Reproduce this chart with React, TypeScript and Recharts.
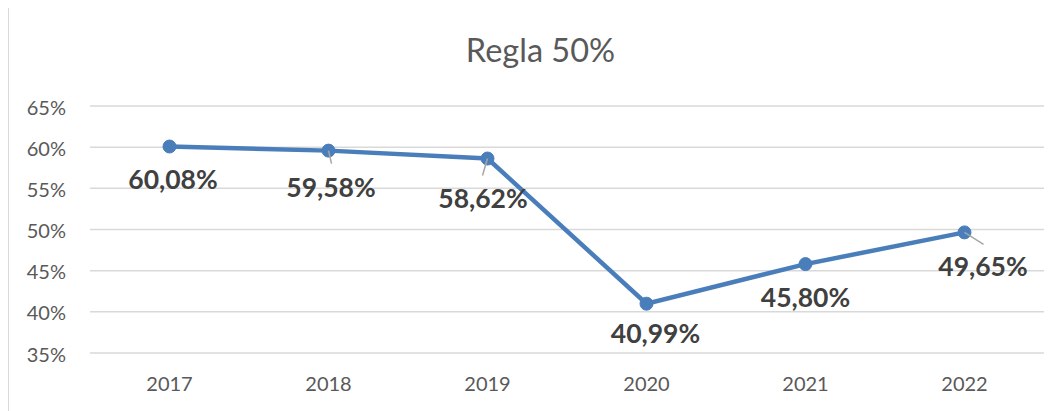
import React from "react";
import { LineChart, Line, XAxis, YAxis, CartesianGrid, LabelList } from "recharts";

const years = ["2017", "2018", "2019", "2020", "2021", "2022"];
const regla50 = [60.08, 59.58, 58.62, 40.99, 45.8, 49.65];
const yTicks = [35, 40, 45, 50, 55, 60, 65];
const chartTitle = "Regla 50%";

const data = years.map((year, i) => ({ year, value: regla50[i] }));

const FONT = "Lato, 'Open Sans', sans-serif";

// label placement (dx, dy from the point) and leader line ends
const labelOffsets: [number, number][] = [
  [3.5, 42],
  [2.5, 46],
  [-4.5, 49.4],
  [9, 39.7],
  [0, 43],
  [18.5, 43.7],
];
const leaders: ([number, number] | null)[] = [null, [3, 13], [-5, 17], null, null, [19, 12]];

const fmt = (v: number) => v.toFixed(2).replace(".", ",") + "%";

const DataLabel = (props: any) => {
  const { x, y, value, index } = props;
  const [dx, dy] = labelOffsets[index] || [0, 40];
  const leader = leaders[index];
  return (
    <g>
      {leader && (
        <line
          x1={x}
          y1={y}
          x2={x + leader[0]}
          y2={y + leader[1]}
          stroke="#a6a6a6"
          strokeWidth={1.5}
        />
      )}
      <text
        x={x + dx}
        y={y + dy}
        textAnchor="middle"
        fontFamily={FONT}
        fontWeight="bold"
        fontSize={26.5}
        fill="#404040"
      >
        {fmt(value)}
      </text>
    </g>
  );
};

export default function App() {
  return (
    <div
      style={{
        position: "relative",
        width: 1060,
        height: 410,
        marginTop: -1,
        borderLeft: "1px solid #d9d9d9",
        borderTop: "1px solid #d9d9d9",
        background: "#fff",
      }}
    >
      <svg
        width={1054}
        height={80}
        style={{ position: "absolute", left: 0, top: 0 }}
      >
        <text
          x={531.5}
          y={54.3}
          textAnchor="middle"
          fontFamily={FONT}
          fontSize={32.5}
          fill="#595959"
        >
          {chartTitle}
        </text>
      </svg>
      <LineChart
        width={1054}
        height={402}
        data={data}
        margin={{ top: 98, right: 19, left: 0, bottom: 27 }}
      >
        <CartesianGrid vertical={false} stroke="#d9d9d9" strokeWidth={1.5} />
        <XAxis
          dataKey="year"
          axisLine={false}
          tickLine={false}
          tickSize={0}
          tickMargin={24}
          height={30}
          padding={{ left: 79.5, right: 79.5 }}
          tick={{ fill: "#595959", fontSize: 20, fontFamily: FONT }}
        />
        <YAxis
          domain={[35, 65]}
          ticks={yTicks}
          width={81}
          axisLine={false}
          tickLine={false}
          tickSize={0}
          tickMargin={24}
          interval={0}
          tickFormatter={(v: number) => `${v}%`}
          tick={{ fill: "#595959", fontSize: 20, fontFamily: FONT, dy: 1.5 }}
        />
        <Line
          dataKey="value"
          stroke="#4a7ebb"
          strokeWidth={4.5}
          dot={{ r: 6.5, fill: "#4a7ebb", stroke: "#4a7ebb", strokeWidth: 1 }}
          activeDot={false}
          isAnimationActive={false}
        >
          <LabelList dataKey="value" content={<DataLabel />} />
        </Line>
      </LineChart>
    </div>
  );
}
